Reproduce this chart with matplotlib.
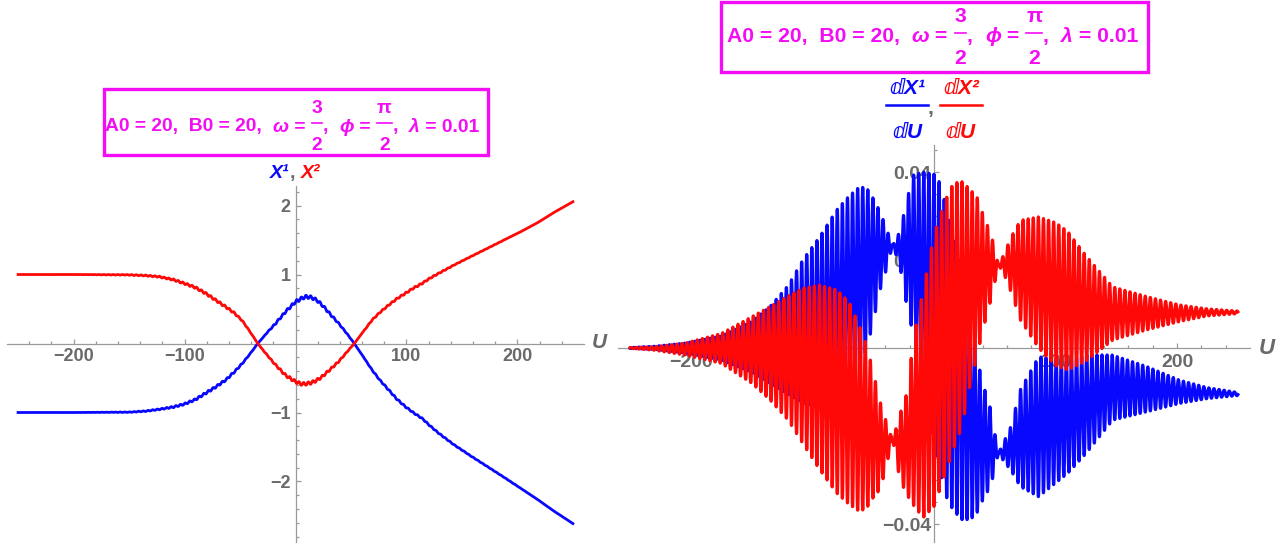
import numpy as np
import matplotlib
matplotlib.use("Agg")
import matplotlib.pyplot as plt
from matplotlib.lines import Line2D
from matplotlib.patches import Rectangle

plt.rcParams['font.family'] = ['Liberation Sans', 'DejaVu Sans']

# ---------------- data ----------------
# left panel: smooth course of X^1 (blue) and X^2 (red)
u_left = [-250, -200, -150, -135, -123, -110, -100, -90, -81, -72,
          -63, -55, -48, -41, -34, -26, -18, -9, 0, 5,
          9, 14, 19, 24, 31, 39, 46, 53, 61, 69,
          76, 84, 91, 99, 106, 114, 121, 129, 143, 158,
          173, 188, 203, 218, 233, 250]
x1_vals = [-1.0, -1.0, -0.995, -0.98, -0.954, -0.92, -0.877, -0.81, -0.72, -0.63,
           -0.53, -0.41, -0.29, -0.15, 0.0, 0.15, 0.29, 0.46, 0.606, 0.65,
           0.678, 0.67, 0.63, 0.558, 0.43, 0.29, 0.15, 0.0, -0.19, -0.384,
           -0.53, -0.674, -0.80, -0.916, -1.0, -1.085, -1.19, -1.30, -1.47, -1.63,
           -1.785, -1.94, -2.10, -2.26, -2.43, -2.61]
x2_vals = [1.0, 1.0, 0.995, 0.985, 0.968, 0.925, 0.87, 0.81, 0.727, 0.63,
           0.533, 0.44, 0.33, 0.17, 0.0, -0.16, -0.31, -0.46, -0.553, -0.585,
           -0.585, -0.57, -0.535, -0.48, -0.38, -0.26, -0.13, 0.0, 0.17, 0.34,
           0.45, 0.558, 0.645, 0.727, 0.80, 0.87, 0.945, 1.017, 1.138, 1.26,
           1.38, 1.50, 1.62, 1.75, 1.90, 2.055]

# right panel: upper / lower envelopes of the oscillating derivatives
u_env = [-250, -230, -205, -175, -150, -135, -120, -108, -94, -80,
         -70, -61, -55, -50, -44, -39, -34, -28, -22, -17,
         -9, 0, 5, 10, 16, 23, 30, 36, 41, 45,
         49, 53, 58, 63, 71, 86, 100, 110, 125, 147,
         175, 202, 225, 250]
dx1_upper = [0.0001, 0.0004, 0.0011, 0.0027, 0.0060, 0.0094, 0.0142, 0.0200, 0.0253, 0.0314,
             0.0345, 0.0367, 0.0362, 0.0340, 0.0308, 0.0270, 0.0234, 0.0265, 0.0340, 0.0393,
             0.0400, 0.0395, 0.0375, 0.0320, 0.0250, 0.0180, 0.0080, -0.0030, -0.0090, -0.0118,
             -0.0179, -0.0239, -0.0210, -0.0180, -0.0095, -0.0020, -0.0025, -0.0030, -0.0015, -0.0016,
             -0.0042, -0.0073, -0.0090, -0.0101]
dx1_lower = [-0.0001, -0.0003, -0.0011, -0.0027, -0.0055, -0.0080, -0.0105, -0.0125, -0.0135, -0.0120,
             -0.0090, -0.0045, 0.0000, 0.0060, 0.0135, 0.0180, 0.0234, 0.0185, 0.0090, 0.0030,
             -0.0100, -0.0220, -0.0280, -0.0338, -0.0370, -0.0390, -0.0390, -0.0372, -0.0340, -0.0322,
             -0.0290, -0.0239, -0.0260, -0.0277, -0.0315, -0.0338, -0.0307, -0.0285, -0.0240, -0.0164,
             -0.0145, -0.0126, -0.0115, -0.0108]
dx2_upper = [0.0001, 0.0003, 0.0011, 0.0033, 0.0071, 0.0094, 0.0118, 0.0136, 0.0143, 0.0132,
             0.0105, 0.0048, 0.0003, -0.0055, -0.0125, -0.0170, -0.0210, -0.0150, -0.0100, 0.0020,
             0.0130, 0.0257, 0.0300, 0.0340, 0.0375, 0.0378, 0.0360, 0.0340, 0.0298, 0.0272,
             0.0238, 0.0189, 0.0215, 0.0250, 0.0290, 0.0298, 0.0285, 0.0265, 0.0210, 0.0139,
             0.0117, 0.0098, 0.0089, 0.0084]
dx2_lower = [-0.0001, -0.0005, -0.0016, -0.0035, -0.0080, -0.0118, -0.0164, -0.0217, -0.0277, -0.0330,
             -0.0355, -0.0372, -0.0362, -0.0340, -0.0320, -0.0265, -0.0210, -0.0300, -0.0335, -0.0357,
             -0.0386, -0.0360, -0.0320, -0.0280, -0.0230, -0.0180, -0.0080, -0.0010, 0.0050, 0.0090,
             0.0135, 0.0189, 0.0165, 0.0130, 0.0064, 0.0000, -0.0040, -0.0050, -0.0030, 0.0018,
             0.0041, 0.0060, 0.0073, 0.0078]
ripple_k = 1.5          # ripple wavenumber (spacing of ~4.2 in U)

x_ticks = [-200, -100, 100, 200]
x_tick_labels = ['\u2212200', '\u2212100', '100', '200']
yl_ticks = [-2, -1, 1, 2]
yl_tick_labels = ['\u22122', '\u22121', '1', '2']
yr_ticks = [-0.04, -0.02, 0.02, 0.04]
yr_tick_labels = ['\u22120.04', '\u22120.02', '0.02', '0.04']

# ---------------- build curves ----------------
u = np.linspace(-250, 250, 12001)
c = np.cos(ripple_k * u)
s = np.sin(ripple_k * u)
bu = np.interp(u, u_env, dx1_upper); bl = np.interp(u, u_env, dx1_lower)
ru = np.interp(u, u_env, dx2_upper); rl = np.interp(u, u_env, dx2_lower)
h1 = (bu - bl) / 2; h2 = (ru - rl) / 2
dx1 = (bu + bl) / 2 + h1 * c
dx2 = (ru + rl) / 2 - h2 * c
x1 = np.interp(u, u_left, x1_vals) + h1 / ripple_k * s
x2 = np.interp(u, u_left, x2_vals) - h2 / ripple_k * s

# ---------------- figure ----------------
W, H = 1284, 546
fig = plt.figure(figsize=(W / 100, H / 100), dpi=100)
r = fig.canvas.get_renderer()

BLUE = '#0808ff'
RED = '#ff0808'
MAG = '#f40cf4'
AXG = '#9a9a9a'
TKG = '#6a6a6a'


def fx(x):
    return x / W


def fy(y):
    return 1 - y / H


def axes_px(x0, x1_, y0, y1_):
    return fig.add_axes([fx(x0), fy(y1_), (x1_ - x0) / W, (y1_ - y0) / H])


def style(ax, xlim, ylim, ymaj, ymin, ylabels, fs, xpad, ypad):
    ax.set_xlim(*xlim); ax.set_ylim(*ylim)
    ax.patch.set_alpha(0)
    for k in ('top', 'right'):
        ax.spines[k].set_visible(False)
    for k in ('left', 'bottom'):
        ax.spines[k].set_position(('data', 0))
        ax.spines[k].set_color(AXG)
        ax.spines[k].set_linewidth(0.9)
        ax.spines[k].set_zorder(0.6)
    ax.set_xticks(x_ticks)
    ax.set_xticks([v for v in range(-240, 241, 20) if v % 100 != 0], minor=True)
    ax.set_yticks(ymaj)
    ax.set_yticks(ymin, minor=True)
    ax.set_xticklabels(x_tick_labels)
    ax.set_yticklabels(ylabels)
    ax.tick_params(which='both', direction='in', color=AXG, width=0.9,
                   labelcolor=TKG, labelsize=fs)
    ax.tick_params(which='major', length=3.5)
    ax.tick_params(which='minor', length=2)
    ax.tick_params(axis='x', pad=xpad)
    ax.tick_params(axis='y', pad=ypad)
    for lab in ax.get_xticklabels() + ax.get_yticklabels():
        lab.set_fontweight('bold')
    ax.set_axisbelow(True)


# left panel
axL = axes_px(7, 584, 186, 542)
style(axL, (-260, 260), (-2.877, 2.283), yl_ticks,
      [round(v, 1) for v in np.arange(-2.8, 2.21, 0.2) if abs(v - round(v)) > 1e-6],
      yl_tick_labels, 13, 3, 3.5)
axL.plot(u, x1, color=BLUE, lw=2.0, zorder=2)
axL.plot(u, x2, color=RED, lw=2.0, zorder=2.1)

# right panel
axR = axes_px(618, 1250, 145, 542)
style(axR, (-260, 260), (-0.04409, 0.04614), yr_ticks,
      [round(v, 3) for v in np.arange(-0.04, 0.0451, 0.005) if abs(v) > 1e-9 and abs(v / 0.02 - round(v / 0.02)) > 1e-6],
      yr_tick_labels, 14, 4, 2)
axR.plot(u, dx1, color=BLUE, lw=2.3, zorder=2)
axR.plot(u, dx2, color=RED, lw=2.3, zorder=2.1)

# axis "U" labels
fig.text(fx(592), fy(343), 'U', ha='left', va='center', fontsize=15, color=TKG,
         fontstyle='italic', fontweight='bold')
fig.text(fx(1259), fy(348), 'U', ha='left', va='center', fontsize=16, color=TKG,
         fontstyle='italic', fontweight='bold')


# ---------------- rich text helper ----------------
def measure(txt, **kw):
    t = fig.text(0, 0, txt, **kw)
    w = t.get_window_extent(r).width
    t.remove()
    return w


def rich(pieces, base, fs, x_start=None, x_center=None, target_w=None):
    def kw(p, f):
        return dict(fontsize=f, fontweight='bold', fontstyle=p.get('style', 'normal'),
                    color=p.get('color', 'k'))

    def widths(f):
        ws = []
        for p in pieces:
            if p['t'] == 'txt':
                ws.append(measure(p['s'], **kw(p, f)))
            else:
                ws.append(max(measure(p['num'], **kw(p, f)), measure(p['den'], **kw(p, f)))
                          + p.get('extra', 0))
        return ws

    ws = widths(fs)
    if target_w is not None:
        fs = fs * target_w / sum(ws)
        ws = widths(fs)
    total = sum(ws)
    x = x_start if x_start is not None else x_center - total / 2
    for p, w in zip(pieces, ws):
        k = kw(p, fs)
        if p['t'] == 'txt':
            fig.text(fx(x), fy(base), p['s'], ha='left', va='baseline', **k)
        else:
            cx = x + w / 2
            fig.text(fx(cx), fy(p['nb']), p['num'], ha='center', va='baseline', **k)
            fig.text(fx(cx), fy(p['db']), p['den'], ha='center', va='baseline', **k)
            pad = p.get('barpad', 0)
            fig.add_artist(Line2D([fx(x + pad), fx(x + w - pad)], [fy(p['bar'])] * 2,
                                  color=p.get('color', 'k'), lw=p.get('barlw', 1.2)))
        x += w
    return fs


def param_box(x_text, target, base, nb, bar, db, fs, box):
    pieces = [
        dict(t='txt', s='A0 = 20,  B0 = 20,  ', color=MAG),
        dict(t='txt', s='\u03c9', style='italic', color=MAG),
        dict(t='txt', s=' = ', color=MAG),
        dict(t='frac', num='3', den='2', nb=nb, bar=bar, db=db, color=MAG, extra=2, barpad=1),
        dict(t='txt', s=',  ', color=MAG),
        dict(t='txt', s='\u03d5', style='italic', color=MAG),
        dict(t='txt', s=' = ', color=MAG),
        dict(t='frac', num='\u03c0', den='2', nb=nb, bar=bar, db=db, color=MAG, extra=2, barpad=1),
        dict(t='txt', s=',  ', color=MAG),
        dict(t='txt', s='\u03bb', style='italic', color=MAG),
        dict(t='txt', s=' = 0.01', color=MAG),
    ]
    rich(pieces, base, fs, x_start=x_text, target_w=target)
    x0, y0, x1_, y1_ = box
    fig.add_artist(Rectangle((fx(x0), fy(y1_)), (x1_ - x0) / W, (y1_ - y0) / H,
                             transform=fig.transFigure, fill=False, edgecolor=MAG, lw=2.4))


param_box(105, 375, 131.5, 113, 123, 150, 13, (103.5, 88.5, 488, 155))
param_box(727, 411, 42, 22, 33, 64, 14, (720.5, 1.5, 1147.5, 71.5))

# left axis label  X^1, X^2
rich([dict(t='txt', s='X\u00b9', style='italic', color=BLUE),
      dict(t='txt', s=', ', color=TKG),
      dict(t='txt', s='X\u00b2', style='italic', color=RED)],
     178, 14, x_center=295)

# right axis label  dX^1/dU , dX^2/dU
rich([dict(t='frac', num='\u2146X\u00b9', den='\u2146U', nb=94, bar=105, db=138,
           color=BLUE, style='italic', extra=6, barlw=1.8),
      dict(t='txt', s=', ', color=TKG),
      dict(t='frac', num='\u2146X\u00b2', den='\u2146U', nb=94, bar=105, db=138,
           color=RED, style='italic', extra=6, barlw=1.8)],
     114, 15, x_center=934)

fig.savefig('out.png', dpi=100)
